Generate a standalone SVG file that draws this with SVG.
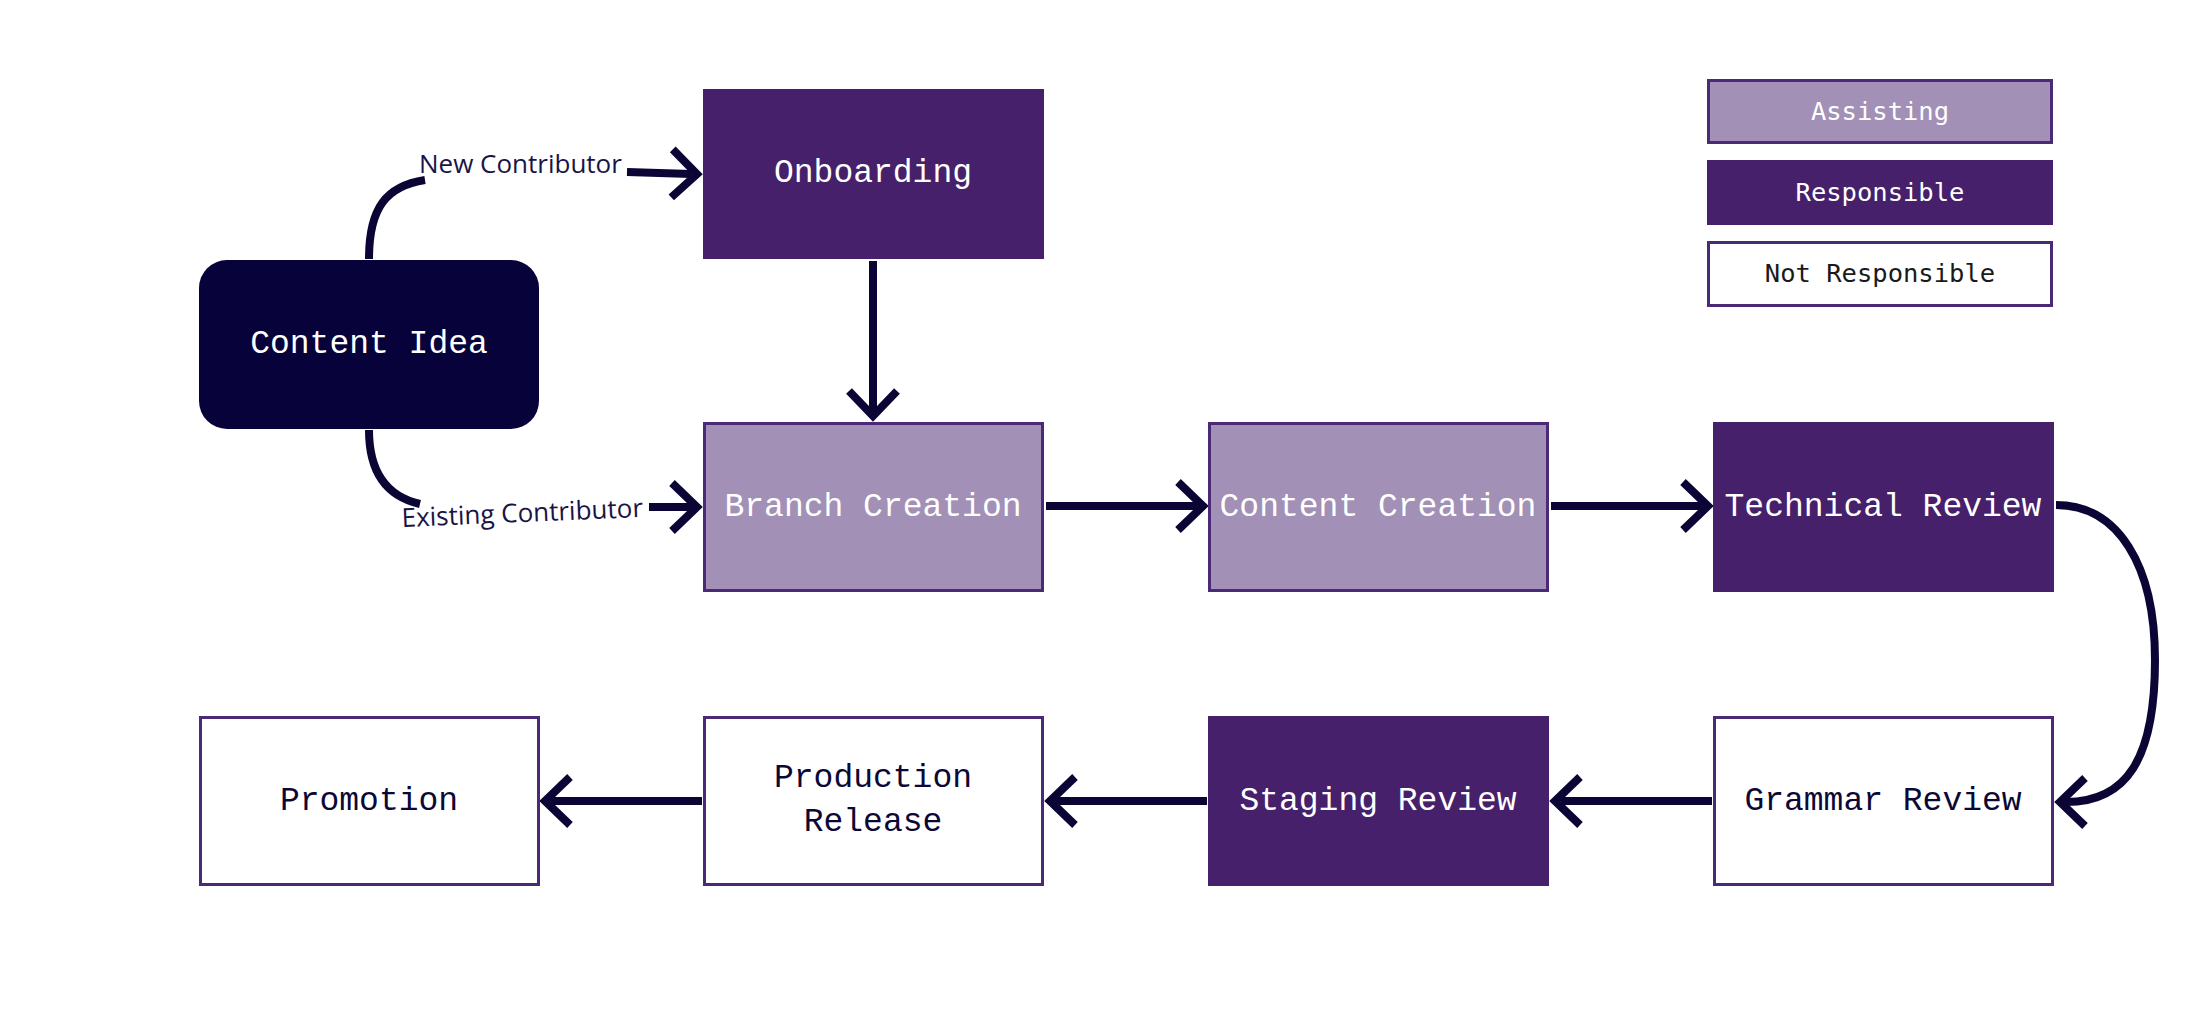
<svg xmlns="http://www.w3.org/2000/svg" width="2199" height="1023" viewBox="0 0 2199 1023">
  <style>
    .assist rect { fill: #a290b6; stroke: #4a2a76; stroke-width: 3; }
    .resp rect { fill: #46206b; }
    .none rect { fill: #ffffff; stroke: #4a2a76; stroke-width: 3; }
    .node text { font-family: "Liberation Mono", "DejaVu Sans Mono", monospace; font-size: 33px; text-anchor: middle; }
    .assist text, .resp text, .start text { fill: #ffffff; }
    .none text { fill: #0c0836; }
    .legend text { font-family: "DejaVu Sans Mono", "Liberation Mono", monospace; font-size: 25.5px; text-anchor: middle; }
    .edge { fill: none; stroke: #0a0535; stroke-width: 8; }
    .label { font-family: "Open Sans", "Noto Sans", sans-serif; font-size: 26px; fill: #1a1446; }
  </style>
  <defs>
    <marker id="chev" markerUnits="userSpaceOnUse" markerWidth="60" markerHeight="60" refX="0" refY="0" viewBox="-30 -30 60 60" orient="auto" overflow="visible">
      <path d="M-19,-24 L6,0 L-19,24" fill="none" stroke="#0a0535" stroke-width="8" stroke-linejoin="miter"/>
    </marker>
  </defs>
  <rect width="2199" height="1023" fill="#ffffff"/>

  <!-- connectors -->
  <g id="connectors">
    <path class="edge" d="M369,259 C369,208 386,186 425,180"/>
    <path class="edge" d="M627,172 L691,174" marker-end="url(#chev)"/>
    <path class="edge" d="M369,430 C369,470 385,496 420,504"/>
    <path class="edge" d="M649,507 L691,507" marker-end="url(#chev)"/>
    <path class="edge" d="M873,261 L873,410" marker-end="url(#chev)"/>
    <path class="edge" d="M1046,506 L1197,506" marker-end="url(#chev)"/>
    <path class="edge" d="M1551,506 L1702,506" marker-end="url(#chev)"/>
    <path class="edge" d="M2056,505 C2118,505 2155,565 2155,660 C2155,760 2126,802 2066,802" marker-end="url(#chev)"/>
    <path class="edge" d="M1712,801 L1561,801" marker-end="url(#chev)"/>
    <path class="edge" d="M1207,801 L1056,801" marker-end="url(#chev)"/>
    <path class="edge" d="M702,801 L551,801" marker-end="url(#chev)"/>
    <text class="label" x="419" y="173">New Contributor</text>
    <text class="label" x="402" y="527" transform="rotate(-2.4 402 527)">Existing Contributor</text>
  </g>

  <!-- nodes -->
  <g id="content-idea" class="node start">
    <rect x="199" y="260" width="340" height="169" rx="28" fill="#07023a"/>
    <text x="369" y="353">Content Idea</text>
  </g>
  <g id="onboarding" class="node resp">
    <rect x="703" y="89" width="341" height="170"/>
    <text x="873" y="182">Onboarding</text>
  </g>
  <g id="branch-creation" class="node assist">
    <rect x="704.5" y="423.5" width="338" height="167"/>
    <text x="873" y="516">Branch Creation</text>
  </g>
  <g id="content-creation" class="node assist">
    <rect x="1209.5" y="423.5" width="338" height="167"/>
    <text x="1378" y="516">Content Creation</text>
  </g>
  <g id="technical-review" class="node resp">
    <rect x="1713" y="422" width="341" height="170"/>
    <text x="1883" y="516">Technical Review</text>
  </g>
  <g id="grammar-review" class="node none">
    <rect x="1714.5" y="717.5" width="338" height="167"/>
    <text x="1883" y="810">Grammar Review</text>
  </g>
  <g id="staging-review" class="node resp">
    <rect x="1208" y="716" width="341" height="170"/>
    <text x="1378" y="810">Staging Review</text>
  </g>
  <g id="production-release" class="node none">
    <rect x="704.5" y="717.5" width="338" height="167"/>
    <text x="873" y="787">Production</text>
    <text x="873" y="831">Release</text>
  </g>
  <g id="promotion" class="node none">
    <rect x="200.5" y="717.5" width="338" height="167"/>
    <text x="369" y="810">Promotion</text>
  </g>

  <!-- legend -->
  <g id="legend-assisting" class="legend assist">
    <rect x="1708.5" y="80.5" width="343" height="62"/>
    <text x="1880" y="120">Assisting</text>
  </g>
  <g id="legend-responsible" class="legend resp">
    <rect x="1707" y="160" width="346" height="65"/>
    <text x="1880" y="201">Responsible</text>
  </g>
  <g id="legend-not-responsible" class="legend none">
    <rect x="1708.5" y="242.5" width="343" height="63"/>
    <text x="1880" y="282" style="fill:#1a1a1a">Not Responsible</text>
  </g>
</svg>
